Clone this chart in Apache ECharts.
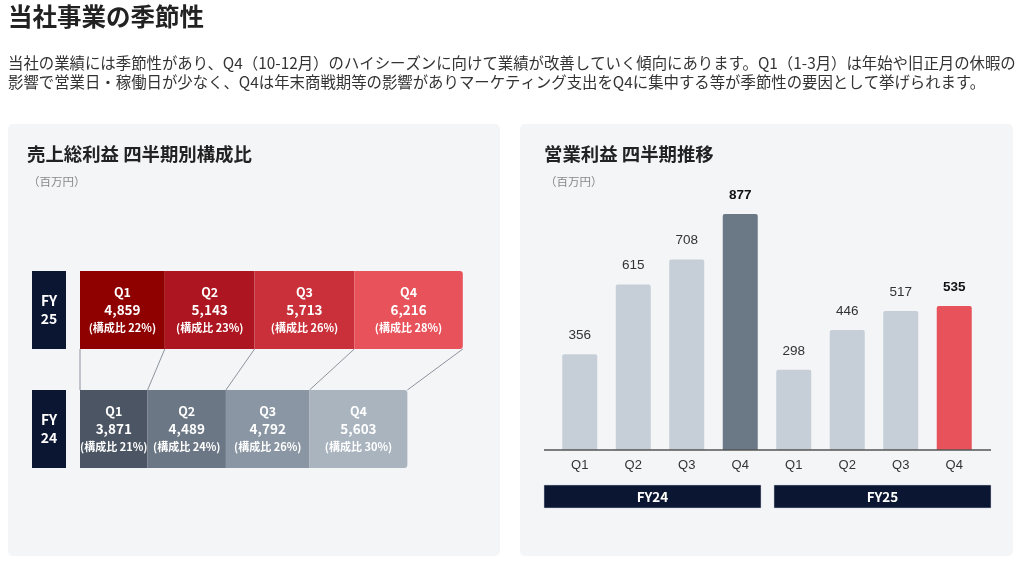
<!DOCTYPE html>
<html>

<head>
    <meta charset="utf-8">
    <title>当社事業の季節性</title>
    <script src="https://cdn.jsdelivr.net/npm/echarts@6/dist/echarts.min.js"></script>
    <style>
        html, body { margin: 0; padding: 0; background: #fff; }
    </style>
</head>

<body>
    <div id="main" style="width: 1024px;height:564px;"></div>
    <script type="text/javascript">
        // データ
        var quarters = ['Q1', 'Q2', 'Q3', 'Q4'];
        var years = ['FY24', 'FY25'];
        // 売上総利益（百万円）
        var gross24 = [3871, 4489, 4792, 5603];
        var gross25 = [4859, 5143, 5713, 6216];
        var share24 = [21, 24, 26, 30];
        var share25 = [22, 23, 26, 28];
        // 営業利益（百万円）
        var op24 = [356, 615, 708, 877];
        var op25 = [298, 446, 517, 535];

        var colors24 = ['#4b5563', '#6b7785', '#8a96a3', '#a9b4bf'];
        var colors25 = ['#8f0000', '#ad1620', '#c9303a', '#e8525b'];

        var FONT = '"Noto Sans CJK JP", "Noto Sans", sans-serif';
        var NUMFONT = '"Liberation Sans", Arial, sans-serif';

        var myChart = echarts.init(document.getElementById('main'));

        // 左: 構成比の積み上げ横棒
        var grossSeries = quarters.map(function (q, i) {
            return {
                name: q,
                type: 'bar',
                stack: 'gross',
                barWidth: 78,
                xAxisIndex: 0,
                yAxisIndex: 0,
                z: 3,
                itemStyle: {
                    borderRadius: i === 3 ? [0, 3, 3, 0] : 0
                },
                label: {
                    show: true,
                    position: 'inside',
                    formatter: function (p) {
                        var share = p.dataIndex === 0 ? share24[i] : share25[i];
                        return '{q|' + q + '}\n{v|' + echarts.format.addCommas(p.value) + '}\n{s|(構成比 ' + share + '%)}';
                    },
                    rich: {
                        q: { color: '#fff', fontSize: 12.5, fontWeight: 'bold', lineHeight: 17, fontFamily: FONT },
                        v: { color: '#fff', fontSize: 13.5, fontWeight: 'bold', lineHeight: 18, fontFamily: FONT },
                        s: { color: '#fff', fontSize: 11, fontWeight: 'bold', lineHeight: 17, fontFamily: FONT }
                    }
                },
                data: [
                    { value: gross24[i], itemStyle: { color: colors24[i] } },
                    { value: gross25[i], itemStyle: { color: colors25[i] } }
                ]
            };
        });

        // 境界をつなぐ線
        var links = [];
        var c24 = 0, c25 = 0;
        links.push([0, 0, 0]);
        for (var k = 0; k < 4; k++) {
            c24 += gross24[k];
            c25 += gross25[k];
            links.push([c25, c24, 0]);
        }

        var linkSeries = {
            type: 'custom',
            xAxisIndex: 0,
            yAxisIndex: 0,
            z: 1,
            encode: { x: [0, 1], y: 2 },
            data: links,
            renderItem: function (params, api) {
                var top = api.coord([api.value(0), 1]);
                var bot = api.coord([api.value(1), 0]);
                return {
                    type: 'line',
                    shape: { x1: top[0], y1: top[1] + 39, x2: bot[0], y2: bot[1] - 39 },
                    style: { stroke: '#8c949e', lineWidth: 1 }
                };
            }
        };

        // 右: 営業利益の推移
        var opCats = [];
        var opData = [];
        years.forEach(function (y, yi) {
            var vals = yi === 0 ? op24 : op25;
            quarters.forEach(function (q, qi) {
                opCats.push(y + ' ' + q);
                var last = qi === 3;
                var col = '#c6cfd8';
                if (last) col = yi === 0 ? '#6b7886' : '#e8525b';
                opData.push({
                    value: vals[qi],
                    itemStyle: { color: col },
                    label: last ? { fontWeight: 'bold', color: '#111' } : {}
                });
            });
        });

        var option = {
            backgroundColor: '#fff',
            textStyle: { fontFamily: FONT },
            animation: false,
            graphic: [
                { type: 'rect', shape: { x: 8, y: 124, width: 492, height: 432, r: 5 }, style: { fill: '#f4f5f7' }, z: -10 },
                { type: 'rect', shape: { x: 520, y: 124, width: 493, height: 432, r: 5 }, style: { fill: '#f4f5f7' }, z: -10 },
                {
                    type: 'text', left: 8, top: 4,
                    style: { text: '当社事業の季節性', fontSize: 24.5, fontWeight: 'bold', fill: '#222', fontFamily: FONT }
                },
                {
                    type: 'text', left: 8, top: 53,
                    style: {
                        text: '当社の業績には季節性があり、Q4（10-12月）のハイシーズンに向けて業績が改善していく傾向にあります。Q1（1-3月）は年始や旧正月の休暇の\n影響で営業日・稼働日が少なく、Q4は年末商戦期等の影響がありマーケティング支出をQ4に集中する等が季節性の要因として挙げられます。',
                        fontSize: 15.4, lineHeight: 19.5, fill: '#333', fontFamily: FONT
                    }
                },
                {
                    type: 'text', left: 27, top: 145,
                    style: { text: '売上総利益 四半期別構成比', fontSize: 18.4, fontWeight: 'bold', fill: '#222', fontFamily: FONT }
                },
                {
                    type: 'text', left: 28, top: 176,
                    style: { text: '（百万円）', fontSize: 11.5, fill: '#888', fontFamily: FONT }
                },
                {
                    type: 'text', left: 544, top: 145,
                    style: { text: '営業利益 四半期推移', fontSize: 18.4, fontWeight: 'bold', fill: '#222', fontFamily: FONT }
                },
                {
                    type: 'text', left: 545, top: 176,
                    style: { text: '（百万円）', fontSize: 11.5, fill: '#888', fontFamily: FONT }
                },
                {
                    type: 'line', shape: { x1: 544, y1: 450, x2: 991, y2: 450 },
                    style: { stroke: '#555', lineWidth: 1.5 }, z: 5
                },
                {
                    type: 'rect', shape: { x: 544, y: 485, width: 217, height: 23 },
                    style: { fill: '#0b1633', stroke: '#c8cfd8', lineWidth: 0.5 },
                    textContent: { style: { text: 'FY24', fill: '#fff', fontSize: 13.5, fontWeight: 'bold', fontFamily: FONT } },
                    textConfig: { position: 'inside' }
                },
                {
                    type: 'rect', shape: { x: 774, y: 485, width: 217, height: 23 },
                    style: { fill: '#0b1633', stroke: '#c8cfd8', lineWidth: 0.5 },
                    textContent: { style: { text: 'FY25', fill: '#fff', fontSize: 13.5, fontWeight: 'bold', fontFamily: FONT } },
                    textConfig: { position: 'inside' }
                }
            ],
            grid: [
                { left: 80, right: 560, top: 250.5, bottom: 75.5 },
                { left: 553, right: 43, top: 181, bottom: 114 }
            ],
            xAxis: [
                {
                    type: 'value', gridIndex: 0, min: 0, max: 22000,
                    show: false
                },
                {
                    type: 'category', gridIndex: 1, data: opCats,
                    axisLine: { show: false },
                    axisTick: { show: false },
                    axisLabel: {
                        margin: 9, color: '#333', fontSize: 13, fontFamily: NUMFONT,
                        formatter: function (v) { return v.split(' ')[1]; }
                    }
                }
            ],
            yAxis: [
                {
                    type: 'category', gridIndex: 0, data: years,
                    axisLine: { show: false },
                    axisTick: { show: false },
                    axisLabel: {
                        margin: 31,
                        align: 'center',
                        width: 18,
                        backgroundColor: '#0b1633',
                        padding: [21, 8],
                        lineHeight: 18,
                        color: '#fff',
                        fontSize: 14,
                        fontWeight: 'bold',
                        fontFamily: FONT,
                        formatter: function (v) { return v.slice(0, 2) + '\n' + v.slice(2); }
                    }
                },
                {
                    type: 'value', gridIndex: 1, min: 0, max: 1000,
                    show: false
                }
            ],
            series: grossSeries.concat([linkSeries, {
                type: 'bar',
                xAxisIndex: 1,
                yAxisIndex: 1,
                barWidth: 35,
                itemStyle: { borderRadius: [2, 2, 0, 0] },
                label: {
                    show: true,
                    position: 'top',
                    distance: 12,
                    color: '#333',
                    fontSize: 13.5,
                    fontFamily: NUMFONT
                },
                data: opData
            }])
        };

        myChart.setOption(option);
    </script>
</body>

</html>
